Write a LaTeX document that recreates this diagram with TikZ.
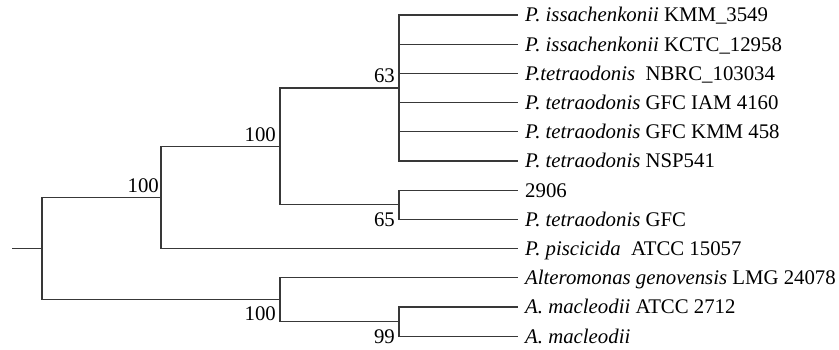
\documentclass[tikz,border=0pt]{standalone}
\usepackage{fontspec}
\setmainfont{Liberation Serif}
\begin{document}
\begin{tikzpicture}[x=1pt,y=-1pt,
  branch/.style={draw=black!78,line width=1.2pt},
  leaf/.style={anchor=base west,inner sep=0pt,font=\fontsize{20.8}{24}\selectfont},
  boot/.style={inner sep=0pt,font=\fontsize{20.8}{24}\selectfont}]
\useasboundingbox (0,0) rectangle (839,350);
% leaf ends
\coordinate (l1) at (518,15);
\coordinate (l2) at (518,44.2);
\coordinate (l3) at (518,73.4);
\coordinate (l4) at (518,102.6);
\coordinate (l5) at (518,131.8);
\coordinate (l6) at (518,161);
\coordinate (l7) at (518,190.2);
\coordinate (l8) at (518,219.4);
\coordinate (l9) at (518,248.6);
\coordinate (l10) at (518,277.8);
\coordinate (l11) at (518,307);
\coordinate (l12) at (518,336.2);
% internal nodes
\coordinate (C) at (399,88);
\coordinate (D) at (399,204.8);
\coordinate (B) at (280,146.4);
\coordinate (A) at (161,197.5);
\coordinate (F) at (399,321.6);
\coordinate (E) at (280,299.7);
\coordinate (R) at (42,248.6);
\coordinate (S) at (12,248.6);
% branches
\draw[branch] (S) -- (R);
\draw[branch] (R) |- (A);
\draw[branch] (R) |- (E);
\draw[branch] (A) |- (B);
\draw[branch] (A) |- (l9);
\draw[branch] (B) |- (C);
\draw[branch] (B) |- (D);
\foreach \i in {1,...,6} {\draw[branch] (C) |- (l\i);}
\draw[branch] (D) |- (l7);
\draw[branch] (D) |- (l8);
\draw[branch] (E) |- (l10);
\draw[branch] (E) |- (F);
\draw[branch] (F) |- (l11);
\draw[branch] (F) |- (l12);
% leaf labels
\node[leaf] (t1) at ([xshift=7pt,yshift=-6.9pt]l1) {\textit{P. issachenkonii} KMM\_3549};
\node[leaf] (t2) at ([xshift=7pt,yshift=-6.9pt]l2) {\textit{P. issachenkonii} KCTC\_12958};
\node[leaf] (t3) at ([xshift=7pt,yshift=-6.9pt]l3) {\textit{P.tetraodonis}\ \ NBRC\_103034};
\node[leaf] (t4) at ([xshift=7pt,yshift=-6.9pt]l4) {\textit{P. tetraodonis} GFC IAM 4160};
\node[leaf] (t5) at ([xshift=7pt,yshift=-6.9pt]l5) {\textit{P. tetraodonis} GFC KMM 458};
\node[leaf] (t6) at ([xshift=7pt,yshift=-6.9pt]l6) {\textit{P. tetraodonis} NSP541};
\node[leaf] (t7) at ([xshift=7pt,yshift=-6.9pt]l7) {2906};
\node[leaf] (t8) at ([xshift=7pt,yshift=-6.9pt]l8) {\textit{P. tetraodonis} GFC};
\node[leaf] (t9) at ([xshift=7pt,yshift=-6.9pt]l9) {\textit{P. piscicida}\ \ ATCC 15057};
\node[leaf] (t10) at ([xshift=7pt,yshift=-6.9pt]l10) {\textit{Alteromonas genovensis} LMG 24078};
\node[leaf] (t11) at ([xshift=7pt,yshift=-6.9pt]l11) {\textit{A. macleodii} ATCC 2712};
\node[leaf] (t12) at ([xshift=7pt,yshift=-6.9pt]l12) {\textit{A. macleodii}};
% bootstrap values
\node[boot,anchor=base east] (bC) at (395,83) {63};
\node[boot,anchor=base east] (bB) at (276,142) {100};
\node[boot,anchor=base east] (bA) at (159,193) {100};
\node[boot,anchor=base east] (bD) at (395,226) {65};
\node[boot,anchor=base east] (bE) at (276,320) {100};
\node[boot,anchor=base east] (bF) at (395,343) {99};
\end{tikzpicture}
\end{document}
